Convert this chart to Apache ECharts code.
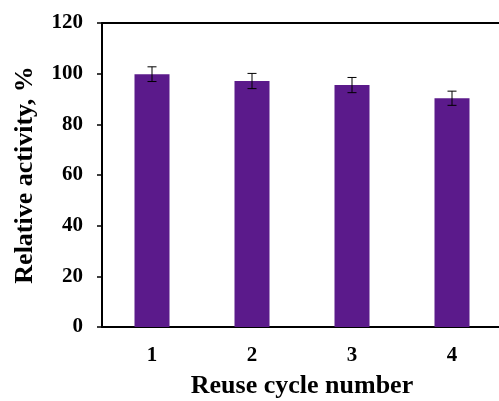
<!DOCTYPE html>
<html>
<head>
<meta charset="utf-8">
<script src="https://cdn.jsdelivr.net/npm/echarts@6/dist/echarts.min.js"></script>
<style>
  html, body { margin: 0; padding: 0; background: #fff; }
  #chart { width: 499px; height: 401px; }
</style>
</head>
<body>
<div id="chart"></div>
<script>
var cycles = ['1', '2', '3', '4'];
var activity = [99.8, 97.1, 95.5, 90.3];
var errors = [2.9, 3.0, 3.0, 2.8];
var yTicks = [0, 20, 40, 60, 80, 100, 120];

var serif = "'Liberation Serif', 'Times New Roman', serif";

var chart = echarts.init(document.getElementById('chart'));

var errData = activity.map(function (v, i) {
    return [i, v, errors[i]];
});

function renderError(params, api) {
    var i = api.value(0);
    var v = api.value(1);
    var e = api.value(2);
    var hi = api.coord([i, v + e]);
    var lo = api.coord([i, v - e]);
    var cap = 4.5;
    var style = { stroke: '#000', lineWidth: 1 };
    return {
        type: 'group',
        children: [
            { type: 'line', shape: { x1: hi[0], y1: hi[1], x2: lo[0], y2: lo[1] }, style: style },
            { type: 'line', shape: { x1: hi[0] - cap, y1: hi[1], x2: hi[0] + cap, y2: hi[1] }, style: style },
            { type: 'line', shape: { x1: lo[0] - cap, y1: lo[1], x2: lo[0] + cap, y2: lo[1] }, style: style }
        ]
    };
}

var option = {
    animation: false,
    backgroundColor: '#fff',
    grid: {
        left: 102, top: 23, width: 400, height: 304,
        containLabel: false,
        outerBoundsMode: 'none'
    },
    xAxis: [{
        type: 'category',
        data: cycles,
        position: 'bottom',
        name: 'Reuse cycle number',
        nameLocation: 'middle',
        nameGap: 46,
        nameMoveOverlap: false,
        nameTextStyle: { fontFamily: serif, fontWeight: 'bold', fontSize: 26, color: '#000' },
        axisLine: { lineStyle: { color: '#000', width: 2 } },
        axisTick: { alignWithLabel: true, length: 4, lineStyle: { color: '#999' } },
        axisLabel: { fontFamily: serif, fontWeight: 'bold', fontSize: 21, color: '#000', margin: 18 }
    }, {
        type: 'category',
        data: cycles,
        position: 'top',
        axisLine: { lineStyle: { color: '#000', width: 2 } },
        axisTick: { show: false },
        axisLabel: { show: false }
    }],
    yAxis: {
        type: 'value',
        min: 0,
        max: 120,
        interval: 20,
        name: 'Relative activity, %',
        nameLocation: 'middle',
        nameGap: 64,
        nameMoveOverlap: false,
        nameTextStyle: { fontFamily: serif, fontWeight: 'bold', fontSize: 26, color: '#000' },
        axisLine: { show: true, lineStyle: { color: '#000', width: 2 } },
        axisTick: { show: true, length: 5, lineStyle: { color: '#000', width: 1.5 } },
        axisLabel: {
            fontFamily: serif, fontWeight: 'bold', fontSize: 21, color: '#000', margin: 19,
            formatter: function (v) { return yTicks.indexOf(v) >= 0 ? String(v) : ''; }
        },
        splitLine: { show: false }
    },
    series: [{
        type: 'bar',
        data: activity,
        barWidth: 35,
        itemStyle: { color: '#5b1a8b' }
    }, {
        type: 'custom',
        data: errData,
        encode: { x: 0, y: 1 },
        renderItem: renderError,
        z: 5
    }]
};

chart.setOption(option);
</script>
</body>
</html>
